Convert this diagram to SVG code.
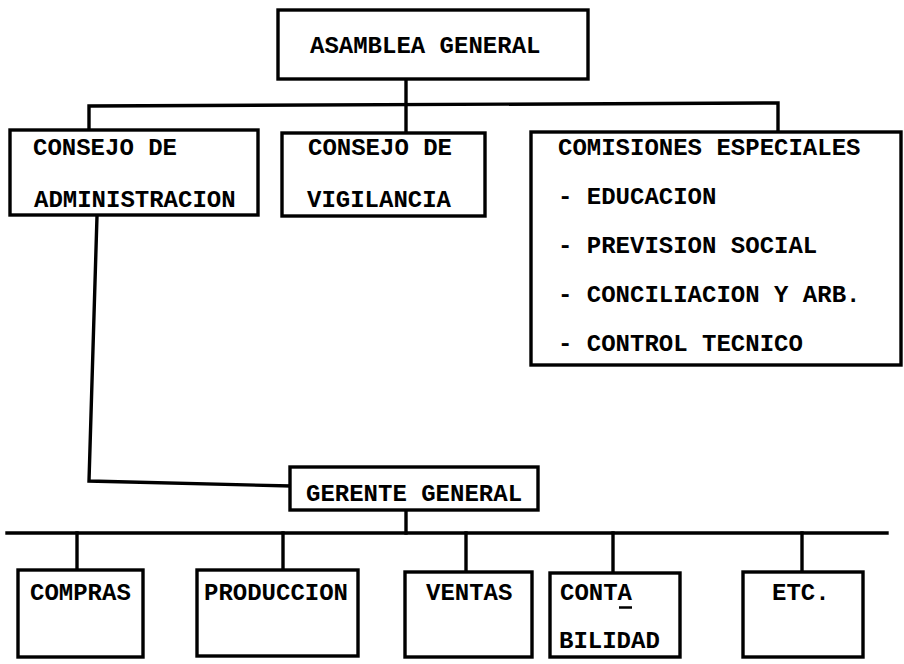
<svg xmlns="http://www.w3.org/2000/svg" width="904" height="664" viewBox="0 0 904 664">
<style>
.box{fill:#fff;stroke:#000;stroke-width:3.4;stroke-linejoin:miter}
.ln{fill:none;stroke:#000;stroke-width:3.4;stroke-linecap:square}
.t{font-family:"Liberation Mono","Courier New",monospace;font-size:24px;font-weight:bold;fill:#000}
</style>
<rect width="904" height="664" fill="#fff"/>
<g id="connectors">
<path class="ln" d="M406,79 L406,133"/>
<path class="ln" d="M89,130 L89,106 L778,103 L778,132"/>
<path class="ln" d="M97,216 L89,481 L290,486"/>
<path class="ln" d="M406,510 L406,533"/>
<path class="ln" d="M7,533 L887,533"/>
<path class="ln" d="M77,533 L77,570"/>
<path class="ln" d="M283,533 L283,570"/>
<path class="ln" d="M466,533 L466,572"/>
<path class="ln" d="M613,533 L613,573"/>
<path class="ln" d="M802,533 L802,572"/>
</g>
<g id="asamblea">
<rect class="box" x="278" y="10" width="310" height="69"/>
<text class="t" x="310" y="53">ASAMBLEA GENERAL</text>
</g>
<g id="consejo-admin">
<rect class="box" x="10" y="130" width="248" height="85"/>
<text class="t" x="33" y="155">CONSEJO DE</text>
<text class="t" x="34" y="207">ADMINISTRACION</text>
</g>
<g id="consejo-vigilancia">
<rect class="box" x="282" y="133" width="203" height="83"/>
<text class="t" x="308" y="155">CONSEJO DE</text>
<text class="t" x="307" y="207">VIGILANCIA</text>
</g>
<g id="comisiones">
<rect class="box" x="531" y="132" width="370" height="233"/>
<text class="t" x="558" y="155">COMISIONES ESPECIALES</text>
<text class="t" x="558" y="204">- EDUCACION</text>
<text class="t" x="558" y="253">- PREVISION SOCIAL</text>
<text class="t" x="558" y="302">- CONCILIACION Y ARB.</text>
<text class="t" x="558" y="351">- CONTROL TECNICO</text>
</g>
<g id="gerente">
<rect class="box" x="290" y="467" width="248" height="43"/>
<text class="t" x="306" y="501">GERENTE GENERAL</text>
</g>
<g id="compras">
<rect class="box" x="18" y="570" width="125" height="87"/>
<text class="t" x="30" y="600">COMPRAS</text>
</g>
<g id="produccion">
<rect class="box" x="197" y="570" width="161" height="86"/>
<text class="t" x="204" y="600">PRODUCCION</text>
</g>
<g id="ventas">
<rect class="box" x="405" y="572" width="127" height="85"/>
<text class="t" x="426" y="600">VENTAS</text>
</g>
<g id="contabilidad">
<rect class="box" x="550" y="573" width="130" height="84"/>
<text class="t" x="560" y="600">CONTA</text>
<path d="M619,607.5 L632,607.5" stroke="#000" stroke-width="2.5" fill="none"/>
<text class="t" x="559" y="648">BILIDAD</text>
</g>
<g id="etc">
<rect class="box" x="743" y="572" width="120" height="85"/>
<text class="t" x="772" y="600">ETC.</text>
</g>
</svg>
